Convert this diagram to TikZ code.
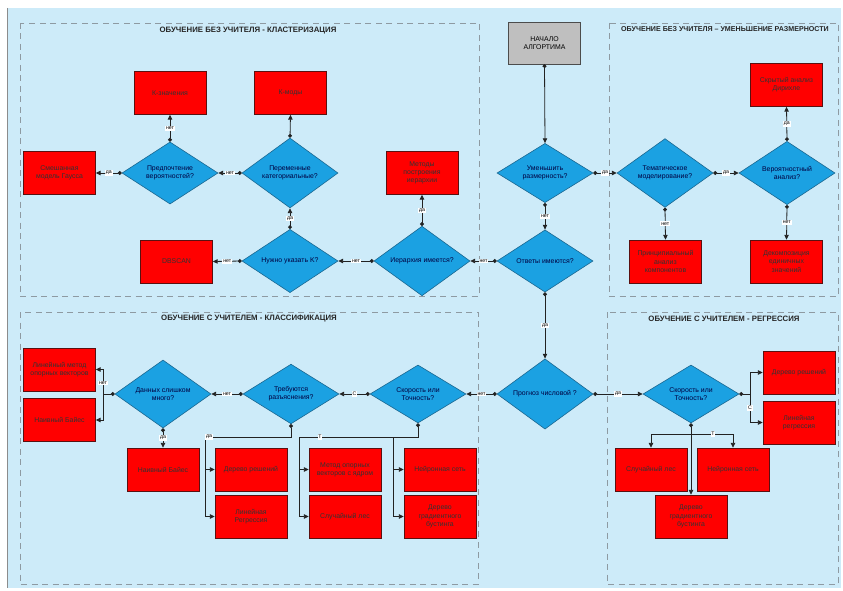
\documentclass[tikz,border=0pt]{standalone}
\usepackage{fontspec}
\setmainfont{Liberation Sans}
\usetikzlibrary{shapes.geometric,arrows.meta}
\definecolor{bgblue}{HTML}{CDEBF9}
\definecolor{dblue}{HTML}{1BA1E2}
\definecolor{dbord}{HTML}{1A6790}
\definecolor{rbord}{HTML}{5A1010}
\definecolor{framegray}{HTML}{8E9AA2}
\definecolor{lnk}{HTML}{222222}
\begin{document}
\begin{tikzpicture}[x=1pt,y=-1pt,
  redbox/.style={draw=rbord, line width=0.6pt, fill=red, minimum width=72pt, minimum height=43pt, inner sep=1pt, align=center, font=\fontsize{6.9}{8.2}\selectfont, text=black!80},
  graybox/.style={redbox, fill=black!25, draw=black!70, text=black},
  decision/.style={diamond, draw=dbord, line width=0.6pt, fill=dblue, minimum width=96pt, minimum height=58pt, inner sep=0pt, align=center, font=\fontsize{6.9}{8.2}\selectfont, text=black!75!blue},
  conn/.style={draw=lnk, line width=0.8pt, {Circle[length=3.8pt]}-{Triangle[length=4.8pt,width=4.4pt]}},
  dotline/.style={draw=lnk, line width=0.8pt, {Circle[length=3.8pt]}-},
  arr/.style={draw=lnk, line width=0.8pt, -{Triangle[length=4.8pt,width=4.4pt]}},
  lbl/.style={fill=white, inner sep=0.9pt, font=\fontsize{5.2}{5.6}\selectfont, text=black},
  frame/.style={draw=framegray, dash pattern=on 6pt off 4.5pt, line width=0.9pt},
  ttl/.style={font=\bfseries\fontsize{7.8}{9}\selectfont, text=black!85}
]
\useasboundingbox (0,0) rectangle (843,591);
\fill[white] (0,0) rectangle (843,591);
\fill[bgblue] (7,8) rectangle (841,588);
\draw[black!45, line width=0.8pt] (7,8) -- (7,588);

% frames
\draw[frame] (20,23) rectangle (479,296);
\draw[frame] (609,23) rectangle (838,296);
\draw[frame] (20,312) rectangle (478,584);
\draw[frame] (607,312) rectangle (838,584);

\node[ttl] (t1) at (248,31) {ОБУЧЕНИЕ БЕЗ УЧИТЕЛЯ - КЛАСТЕРИЗАЦИЯ};
\node[ttl, font=\bfseries\fontsize{7.1}{8}\selectfont] (t2) at (725,29) {ОБУЧЕНИЕ БЕЗ УЧИТЕЛЯ – УМЕНЬШЕНИЕ РАЗМЕРНОСТИ};
\node[ttl] (t3) at (249,319) {ОБУЧЕНИЕ С УЧИТЕЛЕМ - КЛАССИФИКАЦИЯ};
\node[ttl] (t4) at (724,319) {ОБУЧЕНИЕ С УЧИТЕЛЕМ - РЕГРЕССИЯ};

% clustering
\node[redbox] (kmeans) at (170,93) {К-значения};
\node[redbox] (kmodes) at (290.5,93) {К-моды};
\node[redbox] (gmm) at (59.5,173) {Смешанная\\модель Гаусса};
\node[decision] (pref) at (170,173) {Предпочтение\\вероятностей?};
\node[decision] (categ) at (290,173) {Переменные\\категориальные?};
\node[redbox] (hiermeth) at (422,173) {Методы\\построения\\иерархии};
\node[decision] (needk) at (290,261) {Нужно указать K?};
\node[redbox] (dbscan) at (176.5,261.5) {DBSCAN};
\node[decision] (hier) at (422,261) {Иерархия имеется?};
\node[decision] (resp) at (545,261) {Ответы имеются?};
\node[decision] (dimred) at (545,173) {Уменьшить\\размерность?};
\node[graybox, minimum height=42pt] (start) at (544.5,43) {НАЧАЛО\\АЛГОРТИМА};

% dimension reduction
\node[decision] (topic) at (665,173) {Тематическое\\моделирование?};
\node[decision] (prob) at (787,173) {Вероятностный\\анализ?};
\node[redbox] (lda) at (786.5,85) {Скрытый анализ\\Дирихле};
\node[redbox] (pca) at (665.5,261.5) {Принципиальный\\анализ\\компонентов};
\node[redbox] (svd) at (786.5,261.5) {Декомпозиция\\единичных\\значений};

% classification
\node[decision] (toomuch) at (163,394) {Данных слишком\\много?};
\node[redbox] (linsvm) at (59.5,369.5) {Линейный метод\\опорных векторов};
\node[redbox] (nbA) at (59.5,420) {Наивный Байес};
\node[decision] (expl) at (291,394) {Требуются\\разъяснения?};
\node[decision] (sc1) at (418,394) {Скорость или\\Точность?};
\node[decision] (numeric) at (545,394) {Прогноз числовой ?};
\node[redbox] (nbB) at (163,469.5) {Наивный Байес};
\node[redbox] (dt1) at (251,469.5) {Дерево решений};
\node[redbox] (lr1) at (251,516.5) {Линейная\\Регрессия};
\node[redbox] (svm) at (345,469.5) {Метод опорных\\векторов с ядром};
\node[redbox] (rf1) at (345,516.5) {Случайный лес};
\node[redbox] (nn1) at (440,469.5) {Нейронная сеть};
\node[redbox] (gb1) at (440,516.5) {Дерево\\градиентного\\бустинга};

% regression
\node[decision] (sc2) at (691,394) {Скорость или\\Точность?};
\node[redbox] (dt2) at (799,372.5) {Дерево решений};
\node[redbox] (lr2) at (799,422.5) {Линейная\\регрессия};
\node[redbox] (rf2) at (651,469.5) {Случайный лес};
\node[redbox] (nn2) at (733,469.5) {Нейронная сеть};
\node[redbox] (gb2) at (691,516.5) {Дерево\\градиентного\\бустинга};

% connectors top part
\draw[conn] (start.south) -- (dimred.north);
\draw[conn] (dimred.south) -- node[lbl] {нет} (resp.north);
\draw[conn] (dimred.east) -- node[lbl] {да} (topic.west);
\draw[conn] (topic.east) -- node[lbl] {да} (prob.west);
\draw[conn] (prob.north) -- node[lbl] {да} (lda.south);
\draw[conn] (prob.south) -- node[lbl] {нет} (svd.north);
\draw[conn] (topic.south) -- node[lbl] {нет} (pca.north);
\draw[conn] (resp.west) -- node[lbl] {нет} (hier.east);
\draw[conn] (resp.south) -- node[lbl] {да} (numeric.north);
\draw[conn] (hier.north) -- node[lbl] {да} (hiermeth.south);
\draw[conn] (hier.west) -- node[lbl] {нет} (needk.east);
\draw[conn] (needk.west) -- node[lbl] {нет} (dbscan.east);
\draw[conn] (needk.north) -- node[lbl] {да} (categ.south);
\draw[conn] (categ.north) -- (kmodes.south);
\draw[conn] (categ.west) -- node[lbl] {нет} (pref.east);
\draw[conn] (pref.north) -- node[lbl] {нет} (kmeans.south);
\draw[conn] (pref.west) -- node[lbl] {да} (gmm.east);

% classification connectors
\draw[conn] (numeric.west) -- node[lbl] {нет} (sc1.east);
\draw[conn] (numeric.east) -- node[lbl] {да} (sc2.west);
\draw[conn] (sc1.west) -- node[lbl] {С} (expl.east);
\draw[conn] (expl.west) -- node[lbl] {нет} (toomuch.east);
\draw[conn] (toomuch.south) -- node[lbl] {да} (nbB.north);

\coordinate (fA) at (103,394);
\draw[dotline] (toomuch.west) -- (fA);
\draw[arr] (fA) |- (linsvm.east);
\draw[arr] (fA) |- (nbA.east);
\node[lbl] (lA) at (103,383) {нет};

\coordinate (fB) at (205,437);
\draw[dotline] (expl.south) |- (fB);
\draw[arr] (fB) |- (dt1.west);
\draw[arr] (fB) |- (lr1.west);
\node[lbl] (lB) at (209,437) {да};

\coordinate (fC) at (299,437);
\coordinate (fD) at (393,437);
\draw[dotline] (sc1.south) |- (fC);
\draw[arr] (fC) |- (svm.west);
\draw[arr] (fC) |- (rf1.west);
\draw[arr] (fD) |- (nn1.west);
\draw[arr] (fD) |- (gb1.west);
\node[lbl] (lC) at (320,437) {Т};

% regression connectors
\coordinate (fE) at (750,394);
\draw[dotline] (sc2.east) -- (fE);
\draw[arr] (fE) |- (dt2.west);
\draw[arr] (fE) |- (lr2.west);
\node[lbl] (lE) at (750,408) {С};

\coordinate (fF) at (691,434);
\draw[conn] (sc2.south) -- (gb2.north);
\draw[arr] (fF) -| (rf2.north);
\draw[arr] (fF) -| (nn2.north);
\node[lbl] (lF) at (713,434) {Т};
\end{tikzpicture}
\end{document}
